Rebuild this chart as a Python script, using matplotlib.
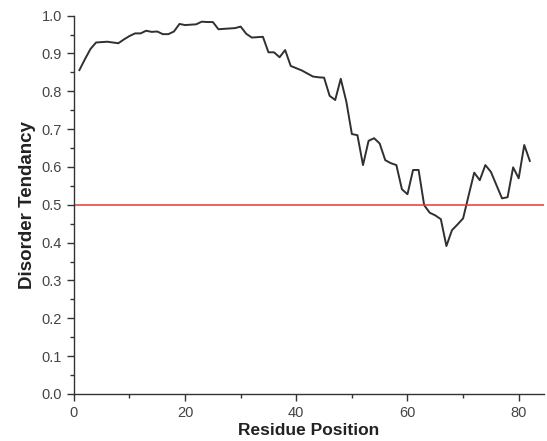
import matplotlib
matplotlib.use("Agg")
import matplotlib.pyplot as plt
from matplotlib.ticker import MultipleLocator

residues = list(range(1, 83))
disorder = [
    0.856, 0.885, 0.912, 0.929, 0.930, 0.931, 0.929, 0.927, 0.937, 0.946,
    0.953, 0.953, 0.960, 0.957, 0.958, 0.951, 0.951, 0.958, 0.978, 0.975,
    0.976, 0.977, 0.984, 0.983, 0.983, 0.964, 0.965, 0.966, 0.967, 0.971,
    0.952, 0.942, 0.943, 0.944, 0.903, 0.903, 0.890, 0.909, 0.867, 0.861,
    0.855, 0.847, 0.839, 0.837, 0.836, 0.788, 0.777, 0.833, 0.773, 0.687,
    0.684, 0.605, 0.669, 0.676, 0.662, 0.618, 0.610, 0.605, 0.541, 0.528,
    0.592, 0.592, 0.499, 0.479, 0.472, 0.462, 0.391, 0.433, 0.448, 0.464,
    0.525, 0.585, 0.565, 0.605, 0.587, 0.552, 0.517, 0.520, 0.599, 0.570,
    0.658, 0.616,
]
threshold = 0.5

plt.rcParams['font.family'] = ['Liberation Sans', 'DejaVu Sans']

fig = plt.figure(figsize=(5.47, 4.41), dpi=100)
ax = fig.add_axes([0.135, 0.1066, 0.859, 0.858])

ax.plot(residues, disorder, color='#303030', lw=1.4)
ax.axhline(threshold, color='#e83a36', lw=1.1)

ax.set_xlim(0, 84.5)
ax.set_ylim(0, 1.0)
ax.xaxis.set_major_locator(MultipleLocator(20))
ax.xaxis.set_minor_locator(MultipleLocator(10))
ax.yaxis.set_major_locator(MultipleLocator(0.1))
ax.yaxis.set_minor_locator(MultipleLocator(0.05))
ax.yaxis.set_major_formatter(matplotlib.ticker.FormatStrFormatter('%.1f'))

for s in ['top', 'right']:
    ax.spines[s].set_visible(False)
for s in ['left', 'bottom']:
    ax.spines[s].set_color('#333333')
    ax.spines[s].set_linewidth(1.0)

ax.tick_params(which='major', direction='out', length=5, width=1.0, color='#333333',
               labelsize=10.5, labelcolor='#444444')
ax.tick_params(which='minor', direction='out', length=3, width=1.0, color='#333333')

ax.set_xlabel('Residue Position', fontsize=12.5, fontweight='bold', color='#222222', labelpad=2)
ax.set_ylabel('Disorder Tendancy', fontsize=13.5, fontweight='bold', color='#222222', labelpad=4)

fig.savefig('out.png', dpi=100)
